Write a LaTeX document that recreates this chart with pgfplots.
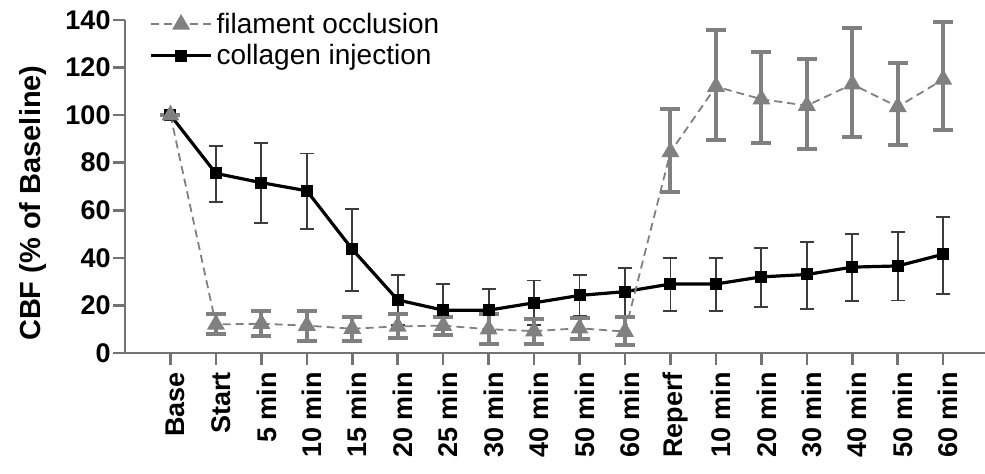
\documentclass[border=0pt]{standalone}
\usepackage{pgfplots}
\pgfplotsset{compat=1.18}
\usepackage{pgfplotstable}
\usepackage{fontspec}
\setmainfont{Liberation Sans}
\definecolor{axgray}{RGB}{115,115,115}
\definecolor{filgray}{RGB}{128,128,128}
\definecolor{errdark}{RGB}{60,60,60}

\pgfplotstableread{
x y ep em
0 100 0 0
1 75.5 11.5 11.9
2 71.6 16.8 17.1
3 68.2 15.7 16.2
4 43.6 16.9 17.6
5 22.3 10.5 10.5
6 18.0 10.9 10.9
7 18.0 8.8 8.8
8 21.1 9.4 9.4
9 24.2 8.6 8.6
10 25.8 10.0 10.0
11 29.0 10.9 11.2
12 29.0 11.0 11.2
13 32.0 12.0 12.5
14 33.0 13.8 14.4
15 36.1 13.8 14.3
16 36.6 14.1 14.5
17 41.5 15.7 16.6
}\collagen

\pgfplotstableread{
x y ep em
0 100 0 0
1 12.0 4.2 4.2
2 12.3 5.2 5.2
3 11.5 6.3 6.3
4 10.2 5.1 5.0
5 11.2 5.0 5.0
6 11.5 3.8 3.8
7 10.0 6.2 6.1
8 9.2 5.2 5.3
9 10.4 4.4 4.4
10 9.0 6.0 5.8
11 84.5 18.0 16.9
12 112.0 24.0 22.5
13 106.7 19.8 18.5
14 104.0 19.5 18.3
15 113.0 23.5 22.0
16 103.5 18.5 16.1
17 115.0 24.0 21.3
}\filament

\begin{document}
\begin{tikzpicture}
\begin{axis}[
  name=ax, at={(0,0)}, anchor=south west,
  scale only axis, width=430pt, height=166.5pt,
  xmin=-1, xmax=17.92, ymin=0, ymax=140,
  clip=false,
  axis x line=bottom, axis y line=left,
  axis line style={-, axgray, line width=1.4pt},
  tick align=outside,
  major tick length=6pt,
  tick style={axgray, line width=1.3pt},
  xtick={0,...,17},
  xticklabels={Base,Start,5 min,10 min,15 min,20 min,25 min,30 min,40 min,50 min,60 min,Reperf,10 min,20 min,30 min,40 min,50 min,60 min},
  x tick label style={rotate=90, anchor=east, yshift=-2.5pt, font=\fontsize{13.5}{15}\selectfont\bfseries, text=black},
  ytick={0,20,...,140},
  y tick label style={xshift=2.3pt, font=\fontsize{13.5}{15}\selectfont\bfseries, text=black},
  /pgf/number format/assume math mode=true,
  ylabel={CBF (\% of Baseline)},
  ylabel style={at={(axis description cs:-0.107,0.45)}, anchor=center, font=\fontsize{14.5}{16}\selectfont\bfseries},
  legend style={at={(axis description cs:0.028,1.035)}, anchor=north west, draw=none, fill=none,
    font=\fontsize{14}{15.5}\selectfont, row sep=0pt, inner sep=0pt},
  legend cell align=left,
  reverse legend,
  legend image code/.code={\draw[mark repeat=2,mark phase=2] plot coordinates {(0pt,0pt) (15pt,0pt) (30pt,0pt)};},
]
\addplot[black, line width=1.6pt, mark=square*, mark size=2.2pt, mark options={solid, fill=black},
  error bars/.cd, y dir=both, y explicit,
  error bar style={errdark, line width=0.9pt, solid},
  error mark options={rotate=90, mark size=3.5pt, line width=0.9pt, errdark, solid}]
  table[x=x, y=y, y error plus=ep, y error minus=em] {\collagen};
\addlegendentry{collagen injection}
\addplot[filgray, line width=0.9pt, dash pattern=on 4pt off 2.5pt, mark=triangle*, mark size=4.3pt, mark options={solid, fill=filgray, draw=filgray},
  error bars/.cd, y dir=both, y explicit,
  error bar style={filgray, line width=2pt, solid},
  error mark options={rotate=90, mark size=5pt, line width=2pt, filgray, solid}]
  table[x=x, y=y, y error plus=ep, y error minus=em] {\filament};
\addlegendentry{filament occlusion}
\end{axis}
\pgfresetboundingbox
\path (-62.5pt,-60.5pt) rectangle (430pt,176.5pt);
\end{tikzpicture}
\end{document}
